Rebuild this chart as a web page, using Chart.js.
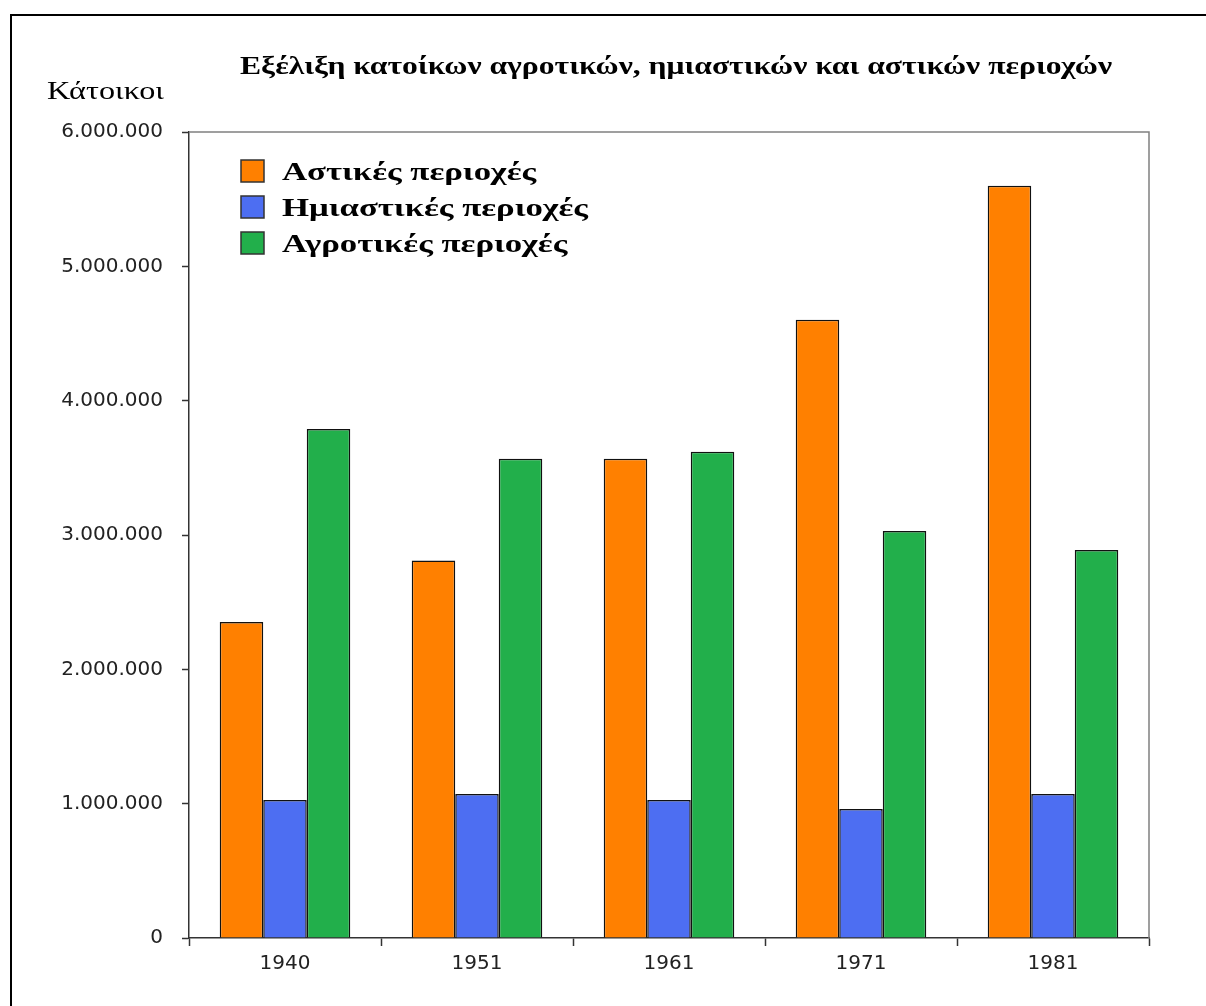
<!DOCTYPE html>
<html>
<head>
<meta charset="utf-8">
<script src="https://cdn.jsdelivr.net/npm/chart.js@4.4.1/dist/chart.umd.min.js"></script>
<style>
  html, body { margin: 0; padding: 0; background: #fff; }
  #wrap { width: 1206px; height: 1006px; position: relative; }
</style>
</head>
<body>
<div id="wrap"><canvas id="chart"></canvas></div>
<script>
// chart data
var years = ['1940', '1951', '1961', '1971', '1981'];
var urban = [2353000, 2810000, 3567000, 4602000, 5600000];
var semiUrban = [1028000, 1072000, 1028000, 960000, 1072000];
var rural = [3790000, 3567000, 3620000, 3030000, 2889000];
var seriesNames = ['Αστικές περιοχές', 'Ημιαστικές περιοχές', 'Αγροτικές περιοχές'];
var titleText = 'Εξέλιξη κατοίκων αγροτικών, ημιαστικών και αστικών περιοχών';
var yTitleText = 'Κάτοικοι';

var COLORS = ['#FF8000', '#4D6EF2', '#22AF4B'];
var SERIF = '"Liberation Serif", "DejaVu Serif", serif';
var SANS = '"DejaVu Sans", "Liberation Sans", sans-serif';

function fmtDots(v) {
  return String(v).replace(/\B(?=(\d{3})+(?!\d))/g, '.');
}

// the reference text is wide for its height: stretch it sideways to a target width
function wideText(ctx, text, x, y, targetW) {
  var w = ctx.measureText(text).width;
  ctx.save();
  ctx.translate(x, y);
  ctx.scale(targetW / w, 1);
  ctx.fillText(text, 0, 0);
  ctx.restore();
}

// draws frame, title, y title and the in-plot legend
var decorPlugin = {
  id: 'decor',
  beforeDraw: function (chart) {
    var ctx = chart.ctx;
    ctx.save();
    ctx.fillStyle = '#fff';
    ctx.fillRect(0, 0, chart.width, chart.height);
    ctx.restore();
  },
  afterDraw: function (chart) {
    var ctx = chart.ctx;
    var area = chart.chartArea;
    ctx.save();

    // outer frame (top + left only visible)
    ctx.strokeStyle = '#000';
    ctx.lineWidth = 2;
    ctx.beginPath();
    ctx.moveTo(11, 1006);
    ctx.lineTo(11, 15);
    ctx.lineTo(1206, 15);
    ctx.stroke();

    // plot area border top/right
    ctx.strokeStyle = '#808080';
    ctx.lineWidth = 1.5;
    ctx.beginPath();
    ctx.moveTo(area.left, area.top);
    ctx.lineTo(area.right, area.top);
    ctx.lineTo(area.right, area.bottom);
    ctx.stroke();

    ctx.fillStyle = '#000';
    ctx.textAlign = 'left';
    ctx.textBaseline = 'alphabetic';

    // title
    ctx.font = 'bold 25px ' + SERIF;
    wideText(ctx, titleText, 240, 74, 872);

    // y axis title
    ctx.font = '25px ' + SERIF;
    wideText(ctx, yTitleText, 47, 99, 117);

    // legend inside plot
    ctx.font = 'bold 26px ' + SERIF;
    var k = 306 / ctx.measureText(seriesNames[1]).width;
    chart.data.datasets.forEach(function (ds, i) {
      var cy = 171 + i * 36;
      ctx.fillStyle = ds.backgroundColor;
      ctx.fillRect(241, cy - 11, 23, 22);
      ctx.strokeStyle = '#333';
      ctx.lineWidth = 1.5;
      ctx.strokeRect(241, cy - 11, 23, 22);
      ctx.fillStyle = '#000';
      wideText(ctx, ds.label, 282, cy + 9, ctx.measureText(ds.label).width * k);
    });

    ctx.restore();
  }
};

var datasets = [urban, semiUrban, rural].map(function (vals, i) {
  return {
    label: seriesNames[i],
    data: vals,
    backgroundColor: COLORS[i],
    borderColor: '#111',
    borderWidth: 1.5,
    borderSkipped: 'bottom',
    categoryPercentage: 0.68,
    barPercentage: 1.0
  };
});

new Chart(document.getElementById('chart'), {
  type: 'bar',
  data: { labels: years, datasets: datasets },
  options: {
    responsive: true,
    maintainAspectRatio: false,
    animation: false,
    layout: { padding: { top: 132, right: 57, left: 0, bottom: 0 } },
    plugins: {
      legend: { display: false },
      tooltip: { enabled: false }
    },
    scales: {
      x: {
        grid: {
          display: true,
          drawOnChartArea: false,
          drawTicks: true,
          tickLength: 8,
          tickColor: '#333',
          tickWidth: 1.5,
          offset: true
        },
        border: { display: true, color: '#333', width: 1.5 },
        ticks: {
          color: '#222',
          font: { family: SANS, size: 20 },
          padding: 6
        },
        afterFit: function (scale) { scale.height = 68; }
      },
      y: {
        min: 0,
        max: 6000000,
        grid: {
          display: true,
          drawOnChartArea: false,
          drawTicks: true,
          tickLength: 7,
          tickColor: '#333',
          tickWidth: 1.5
        },
        border: { display: true, color: '#333', width: 1.5 },
        ticks: {
          stepSize: 1000000,
          color: '#222',
          font: { family: SANS, size: 20 },
          padding: 19,
          callback: function (v) { return fmtDots(v); }
        },
        afterFit: function (scale) { scale.width = 189; }
      }
    }
  },
  plugins: [decorPlugin]
});
</script>
</body>
</html>
